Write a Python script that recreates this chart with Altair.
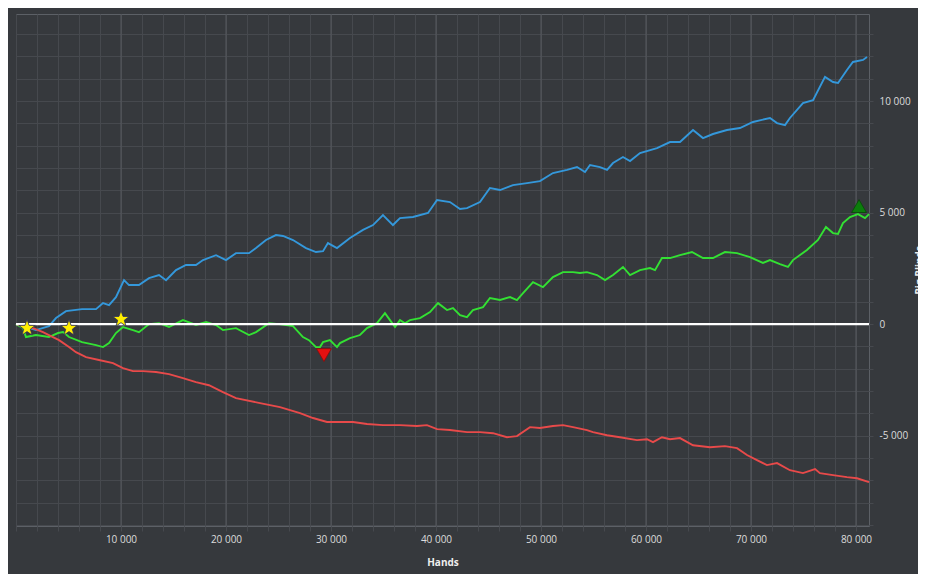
import altair as alt
import pandas as pd

# ---------------- data ----------------
showdown_hands = [0, 1900, 3140, 3810, 4760, 6290, 7620, 8290, 8860, 9520,
                  10290, 10760, 11710, 12670, 13620, 14290, 15240, 16190, 17140, 17810,
                  19050, 20000, 20950, 22190, 22860, 23810, 24760, 25430, 26380, 27620,
                  28570, 29240, 29710, 30570, 31810, 33050, 34000, 34950, 35900, 36570,
                  37810, 39240, 40100, 41330, 42290, 42950, 44190, 45140, 46100, 47330,
                  48670, 49900, 51140, 52480, 53430, 54190, 54670, 55620, 56290, 56860,
                  57810, 58480, 59430, 61050, 62290, 63240, 64480, 65430, 66380, 67710,
                  68950, 70190, 71810, 72480, 73240, 73710, 74950, 75910, 77050, 77810,
                  78290, 79140, 79710, 80670, 81050]
showdown_bb = [0, -270, -90, 270, 580, 670, 670, 940, 850, 1210,
               1970, 1750, 1750, 2060, 2200, 1970, 2420, 2650, 2650, 2870,
               3090, 2870, 3180, 3180, 3410, 3770, 3990, 3950, 3770, 3410,
               3230, 3270, 3630, 3410, 3860, 4220, 4440, 4890, 4440, 4750,
               4800, 4980, 5560, 5470, 5160, 5200, 5470, 6100, 6010, 6230,
               6320, 6410, 6770, 6910, 7040, 6820, 7130, 7040, 6910, 7220,
               7490, 7310, 7670, 7890, 8160, 8160, 8700, 8340, 8520, 8700,
               8790, 9060, 9240, 9010, 8920, 9240, 9910, 10040, 11080, 10850,
               10810, 11390, 11750, 11840, 11970]

net_hands = [0, 670, 950, 1900, 3140, 4000, 4480, 5050, 6290, 7620,
             8290, 8860, 9520, 10190, 11140, 11710, 12670, 13620, 14570, 15900,
             17140, 18100, 19050, 19710, 20950, 22190, 22860, 24100, 25050, 26380,
             27330, 27900, 28570, 28950, 29240, 29900, 30570, 30860, 31810, 32760,
             33430, 34380, 35140, 35620, 36100, 36570, 37050, 37520, 38480, 39430,
             40190, 41050, 41620, 42290, 42950, 43520, 44480, 45140, 46100, 47050,
             47710, 48290, 49240, 50190, 51140, 52100, 53050, 53710, 54380, 55330,
             56100, 56860, 57810, 58480, 59430, 60380, 60860, 61520, 62290, 63240,
             64380, 65430, 66380, 67520, 68670, 69900, 71140, 71810, 72760, 73520,
             74000, 75330, 76380, 77140, 77810, 78290, 78760, 79430, 80190, 80860,
             81240]
net_bb = [0, -180, -580, -490, -580, -400, -360, -580, -810, -940,
          -1030, -850, -400, -130, -270, -360, 0, 40, -130, 180,
          -40, 90, -40, -270, -180, -490, -360, 40, 0, -90,
          -580, -720, -1030, -1030, -810, -720, -1030, -850, -630, -490,
          -180, 40, 490, 180, -130, 180, 40, 180, 270, 540,
          940, 630, 720, 400, 310, 630, 760, 1170, 1080, 1210,
          1080, 1390, 1880, 1660, 2110, 2330, 2330, 2290, 2330, 2200,
          1970, 2200, 2560, 2200, 2420, 2510, 2420, 2960, 2960, 3090,
          3230, 2960, 2960, 3230, 3180, 3000, 2740, 2870, 2690, 2560,
          2870, 3320, 3770, 4350, 4080, 4040, 4530, 4800, 4930, 4750,
          4930]

nonshowdown_hands = [0, 1620, 2570, 3520, 4100, 5050, 5710, 6670, 7900, 9240,
                     10190, 11140, 12100, 13330, 14570, 15900, 17140, 18380, 19710, 20950,
                     23240, 25140, 27050, 28290, 29620, 30860, 32100, 33430, 34950, 36570,
                     38190, 39140, 40100, 41330, 42950, 44190, 45430, 46760, 47710, 48950,
                     49900, 51140, 52100, 53050, 54380, 54950, 56290, 57520, 59140, 60100,
                     60670, 61520, 62290, 63240, 64480, 66100, 67520, 68670, 69620, 70570,
                     71520, 72480, 73710, 74950, 76100, 76570, 77810, 79140, 80100, 81240]
nonshowdown_bb = [0, -180, -360, -580, -720, -1030, -1260, -1480, -1610, -1750,
                  -1970, -2110, -2110, -2150, -2240, -2420, -2600, -2740, -3050, -3320,
                  -3540, -3720, -3990, -4210, -4390, -4390, -4390, -4480, -4530, -4530,
                  -4570, -4530, -4710, -4750, -4840, -4840, -4890, -5070, -5020, -4620,
                  -4660, -4570, -4530, -4620, -4750, -4840, -4980, -5070, -5200, -5160,
                  -5290, -5070, -5160, -5110, -5430, -5520, -5470, -5560, -5870, -6100,
                  -6320, -6230, -6550, -6680, -6500, -6680, -6770, -6860, -6910, -7080]

series_names = ["Showdown", "Net won", "Non-showdown"]
series_colors = ["#3498db", "#33e133", "#e84a4a"]

star_hands = [1050, 5050, 10000]
star_bb = [-180, -180, 220]
low_hands = [29330]
low_bb = [-1390]
high_hands = [80290]
high_bb = [5290]

x_ticks = list(range(0, 81000, 2000))
x_major = list(range(10000, 81000, 10000))
y_ticks = list(range(-9000, 14000, 1000))

# ---------------- tables ----------------
rows = []
for name, hs, vs in zip(series_names,
                        [showdown_hands, net_hands, nonshowdown_hands],
                        [showdown_bb, net_bb, nonshowdown_bb]):
    for h, v in zip(hs, vs):
        rows.append({"series": name, "hands": h, "bb": v})
lines_df = pd.DataFrame(rows)
stars_df = pd.DataFrame({"hands": star_hands, "bb": star_bb})
low_df = pd.DataFrame({"hands": low_hands, "bb": low_bb})
high_df = pd.DataFrame({"hands": high_hands, "bb": high_bb})
zero_df = pd.DataFrame({"bb": [0]})
major_df = pd.DataFrame({"hands": x_major})

# ---------------- styling ----------------
BG = "#36393d"
GRID_MINOR = "#46494e"
GRID_MAJOR = "#575b60"
FONT = "Open Sans"
LABEL = "#dcdcdc"
STAR_PATH = ("M0,-1 L0.235,-0.324 L0.951,-0.309 L0.380,0.124 L0.588,0.809 "
             "L0,0.4 L-0.588,0.809 L-0.380,0.124 L-0.951,-0.309 L-0.235,-0.324 Z")

x_scale = alt.Scale(domain=[0, 81240], nice=False, zero=False)
y_scale = alt.Scale(domain=[-9050, 13900], nice=False, zero=False)

space_fmt = "(datum.value < 0 ? '-' : '') + replace(format(abs(datum.value), ','), ',', ' ')"

x_axis = alt.Axis(
    values=x_ticks,
    labelExpr="datum.value > 0 && datum.value % 10000 === 0 ? " + space_fmt + " : ''",
    labelOverlap=False,
    labelFlush=False,
    grid=True,
    gridColor=GRID_MINOR,
    tickColor=GRID_MINOR,
    tickSize=5,
    domain=False,
    labelColor=LABEL,
    labelFont=FONT,
    labelFontSize=10,
    labelPadding=3,
    title="Hands",
    titleColor="#eeeeee",
    titleFont=FONT,
    titleFontSize=10,
    titleFontWeight="bold",
    titlePadding=13,
)

y_axis = alt.Axis(
    orient="right",
    values=y_ticks,
    labelExpr="datum.value % 5000 === 0 ? " + space_fmt + " : ''",
    labelOverlap=False,
    labelFlush=False,
    grid=True,
    gridColor=GRID_MINOR,
    tickColor=GRID_MINOR,
    tickSize=4,
    domain=False,
    labelColor=LABEL,
    labelFont=FONT,
    labelFontSize=10,
    labelPadding=6,
    labelAlign="left",
    labelBaseline="middle",
    title="Big Blinds",
    titleColor="#eeeeee",
    titleFont=FONT,
    titleFontSize=10,
    titleFontWeight="bold",
    titleAngle=270,
    titleAlign="center",
    titleBaseline="top",
    titleX=45,
    titleY=256,
)

X = alt.X("hands:Q", scale=x_scale, axis=x_axis)
Y = alt.Y("bb:Q", scale=y_scale, axis=y_axis)

major_grid = alt.Chart(major_df).mark_rule(color=GRID_MAJOR, strokeWidth=1).encode(x=X)

lines = alt.Chart(lines_df).mark_line(strokeWidth=1.9).encode(
    x=X,
    y=Y,
    color=alt.Color("series:N",
                    scale=alt.Scale(domain=series_names, range=series_colors),
                    legend=None),
)

zero_line = alt.Chart(zero_df).mark_rule(color="#ffffff", strokeWidth=2.4).encode(y=Y)

stars = alt.Chart(stars_df).mark_point(
    shape=STAR_PATH, filled=True, fill="#ffee00", stroke="#2b2d5c",
    strokeWidth=0.8, size=300, opacity=1,
).encode(x=X, y=Y)

low_mark = alt.Chart(low_df).mark_point(
    shape="triangle-down", filled=True, fill="#e51010", stroke="#8a0a0a",
    strokeWidth=0.8, size=220, opacity=1,
).encode(x=X, y=Y)

high_mark = alt.Chart(high_df).mark_point(
    shape="triangle-up", filled=True, fill="#0c7e0c", stroke="#064a06",
    strokeWidth=0.8, size=220, opacity=1,
).encode(x=X, y=Y)

chart = alt.layer(major_grid, lines, zero_line, stars, low_mark, high_mark).properties(
    width=853,
    height=512,
    autosize=alt.AutoSizeParams(type="none"),
    padding={"left": 8, "top": 6, "right": 49, "bottom": 48},
    background=BG,
).configure_view(
    stroke="#5c6066",
    strokeWidth=1,
    fill=BG,
)

chart.save("out.html", embed_options={"renderer": "svg", "actions": False})
